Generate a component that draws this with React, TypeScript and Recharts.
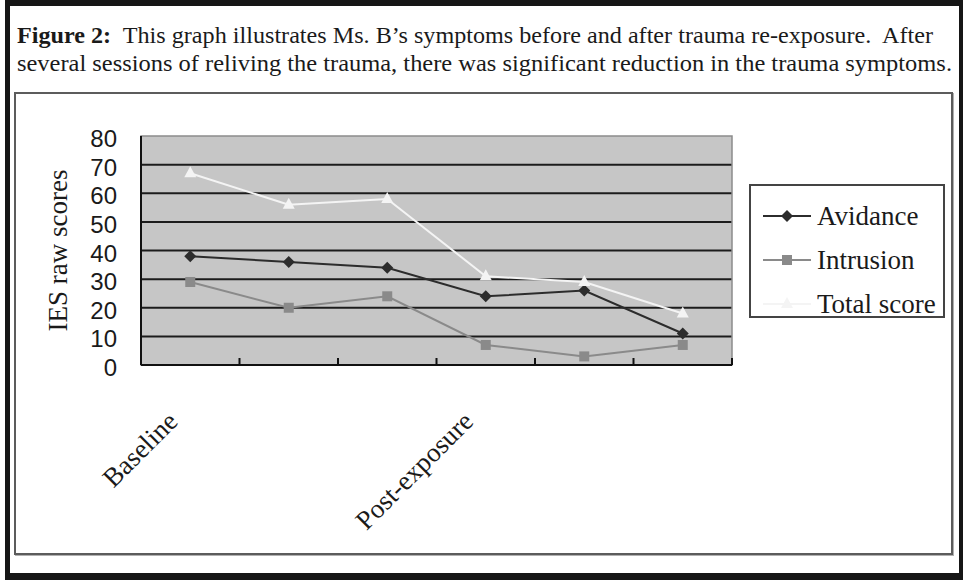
import React from 'react';
import { LineChart, Line, XAxis, YAxis, CartesianGrid, Legend, ReferenceArea } from 'recharts';

// sessions 1..6, only two of them carry a label
const sessions = [1, 2, 3, 4, 5, 6];
const sessionLabels = ['Baseline', '', '', 'Post-exposure', '', ''];
const avidance = [38, 36, 34, 24, 26, 11];
const intrusion = [29, 20, 24, 7, 3, 7];
const totalScore = [67, 56, 58, 31, 29, 18];

const yTicks = [0, 10, 20, 30, 40, 50, 60, 70, 80];
const gridValues = [10, 20, 30, 40, 50, 60, 70];
// label ticks at the sessions, tick marks between them
const xTicks = [1, 1.5, 2, 2.5, 3, 3.5, 4, 4.5, 5, 5.5, 6, 6.5];

const series = [
  { key: 'avidance', name: 'Avidance', color: '#2c2c2c', marker: 'diamond' },
  { key: 'intrusion', name: 'Intrusion', color: '#8a8a8a', marker: 'square' },
  { key: 'total', name: 'Total score', color: '#f4f4f4', marker: 'triangle' },
];

const data = sessions.map((s, i) => ({
  session: s,
  avidance: avidance[i],
  intrusion: intrusion[i],
  total: totalScore[i],
}));

const SERIF = '"Liberation Serif", "Times New Roman", serif';

function Marker({ shape, cx, cy, color }: { shape: string; cx: number; cy: number; color: string }) {
  if (shape === 'diamond') {
    return <path d={`M${cx},${cy - 6}L${cx + 6},${cy}L${cx},${cy + 6}L${cx - 6},${cy}Z`} fill={color} />;
  }
  if (shape === 'square') {
    return <rect x={cx - 5} y={cy - 5} width={10} height={10} fill={color} />;
  }
  return <path d={`M${cx},${cy - 7}L${cx + 6},${cy + 4}L${cx - 6},${cy + 4}Z`} fill={color} />;
}

const SessionTick = (props: any) => {
  const { x, y, payload } = props;
  const v = payload.value;
  if (Number.isInteger(v)) {
    const label = sessionLabels[v - 1];
    if (!label) return <g />;
    const ax = x - 11;
    const ay = y + 58;
    return (
      <text
        x={ax}
        y={ay}
        textAnchor="end"
        transform={`rotate(-45 ${ax} ${ay})`}
        fontFamily={SERIF}
        fontSize={27}
        fill="#1a1a1a"
      >
        {label}
      </text>
    );
  }
  return <line x1={x} y1={y} x2={x} y2={y - 7} stroke="#111" strokeWidth={2} />;
};

const ScoreTick = (props: any) => {
  const { x, y, payload } = props;
  return (
    <text x={x} y={y} dy={11} textAnchor="end" fontFamily='"Liberation Sans", Arial, sans-serif' fontSize={24} fill="#1a1a1a">
      {payload.value}
    </text>
  );
};

const LegendBox = (props: any) => {
  const payload = props.payload || [];
  return (
    <div
      style={{
        width: 196,
        height: 134,
        boxSizing: 'border-box',
        border: '2px solid #444',
        background: '#fff',
        paddingTop: 8,
      }}
    >
      {payload.map((entry: any) => {
        const s = series.find((d) => d.key === entry.dataKey) || series[0];
        return (
          <div key={s.key} style={{ display: 'flex', alignItems: 'center', height: 44 }}>
            <svg width={64} height={20} style={{ marginLeft: 10 }}>
              <line x1={2} y1={10} x2={50} y2={10} stroke={s.color} strokeWidth={2} />
              <Marker shape={s.marker} cx={26} cy={10} color={s.color} />
            </svg>
            <span style={{ fontFamily: SERIF, fontSize: 27, color: '#1a1a1a', marginLeft: -8, whiteSpace: 'nowrap' }}>
              {entry.value}
            </span>
          </div>
        );
      })}
    </div>
  );
};

export default function App() {
  return (
    <div style={{ position: 'absolute', left: 0, top: 0, width: 963, height: 580, background: '#fff', overflow: 'hidden' }}>
      <div
        style={{
          position: 'absolute',
          left: 5,
          top: 0,
          width: 958,
          height: 580,
          boxSizing: 'border-box',
          borderStyle: 'solid',
          borderColor: '#161616',
          borderWidth: '6px 4px 7px 5px',
        }}
      />
      <svg width={963} height={90} style={{ position: 'absolute', left: 0, top: 0 }}>
        <text x={17} y={43} fontFamily={SERIF} fontSize={23} fill="#1a1a1a" textLength={916} lengthAdjust="spacingAndGlyphs" style={{ whiteSpace: 'pre' }}>
          <tspan fontWeight="bold">Figure 2:</tspan>
          <tspan>{'  This graph illustrates Ms. B\u2019s symptoms before and after trauma re-exposure.  After'}</tspan>
        </text>
        <text x={17} y={71} fontFamily={SERIF} fontSize={23} fill="#1a1a1a" textLength={935} lengthAdjust="spacingAndGlyphs">
          several sessions of reliving the trauma, there was significant reduction in the trauma symptoms.
        </text>
      </svg>
      <div
        style={{
          position: 'absolute',
          left: 14,
          top: 92,
          width: 939,
          height: 463,
          boxSizing: 'border-box',
          border: '2px solid #5c5c5c',
          boxShadow: '1px 1px 0 #b0b0b0',
        }}
      />
      <div style={{ position: 'absolute', left: 14, top: 94 }}>
        <LineChart width={938} height={458} data={data} margin={{ top: 42, right: 220, left: 0, bottom: 0 }}>
          <CartesianGrid
            vertical={false}
            horizontalValues={gridValues}
            stroke="#1c1c1c"
            strokeWidth={2}
            fill="#c6c6c6"
            fillOpacity={1}
          />
          <ReferenceArea x1={0.5} x2={6.5} y1={0} y2={80} fill="none" stroke="#8c8c8c" strokeWidth={1.5} />
          <XAxis
            dataKey="session"
            type="number"
            domain={[0.5, 6.5]}
            ticks={xTicks}
            interval={0}
            height={187}
            tickSize={0}
            tickMargin={0}
            tickLine={false}
            axisLine={{ stroke: '#111', strokeWidth: 2 }}
            tick={<SessionTick />}
          />
          <YAxis
            domain={[0, 80]}
            ticks={yTicks}
            width={127}
            tickSize={0}
            tickMargin={24}
            tickLine={false}
            axisLine={{ stroke: '#111', strokeWidth: 2 }}
            tick={<ScoreTick />}
            label={(p: any) => {
              const vb = p.viewBox || { x: 0, y: 42, width: 127, height: 229 };
              const lx = vb.x + 44;
              const ly = vb.y + vb.height / 2;
              return (
                <text
                  x={lx}
                  y={ly}
                  textAnchor="middle"
                  dominantBaseline="central"
                  transform={`rotate(-90 ${lx} ${ly})`}
                  fontFamily={SERIF}
                  fontSize={27}
                  fill="#1a1a1a"
                >
                  IES raw scores
                </text>
              );
            }}
          />
          <Legend
            layout="vertical"
            align="center"
            verticalAlign="middle"
            content={<LegendBox />}
            wrapperStyle={{ left: 735, top: 90, width: 196, height: 134 }}
          />
          {series.map((s) => (
            <Line
              key={s.key}
              dataKey={s.key}
              name={s.name}
              stroke={s.color}
              strokeWidth={2}
              isAnimationActive={false}
              dot={(p: any) => <Marker key={`${s.key}-${p.index}`} shape={s.marker} cx={p.cx} cy={p.cy} color={s.color} />}
              activeDot={false}
            />
          ))}
        </LineChart>
      </div>
    </div>
  );
}
